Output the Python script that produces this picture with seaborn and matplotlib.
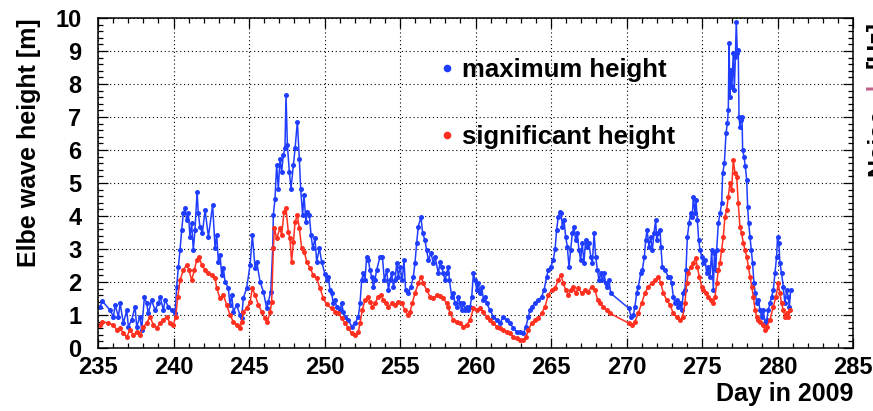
import matplotlib
matplotlib.use("Agg")
import matplotlib.pyplot as plt
from matplotlib.lines import Line2D
from matplotlib.ticker import MultipleLocator
import seaborn as sns
import pandas as pd

# Elbe buoy: maximum wave height per record (day of year 2009, metres)
day_max = [
    235.13, 235.29, 235.79, 236.02, 236.13, 236.35, 236.46, 236.68, 236.90, 237.01,
    237.23, 237.45, 237.56, 237.78, 237.89, 238.07, 238.22, 238.33, 238.55, 238.77,
    238.99, 239.11, 239.33, 239.44, 239.66, 239.88, 240.10, 240.21, 240.32, 240.43,
    240.54, 240.65, 240.76, 240.87, 240.98, 241.09, 241.20, 241.31, 241.42, 241.56,
    241.64, 241.75, 241.91, 242.09, 242.31, 242.59, 242.75, 242.86, 242.97, 243.08,
    243.19, 243.30, 243.41, 243.63, 243.74, 243.85, 243.96, 244.18, 244.40, 244.51,
    244.62, 244.84, 245.07, 245.22, 245.40, 245.51, 245.73, 245.95, 246.17, 246.28,
    246.44, 246.57, 246.61, 246.72, 246.83, 246.94, 247.05, 247.16, 247.27, 247.38,
    247.45, 247.54, 247.67, 247.78, 247.94, 248.05, 248.20, 248.33, 248.42, 248.55,
    248.64, 248.77, 248.86, 248.99, 249.11, 249.22, 249.37, 249.48, 249.66, 249.81,
    250.03, 250.14, 250.25, 250.36, 250.47, 250.58, 250.69, 250.80, 251.03, 251.14,
    251.24, 251.36, 251.58, 251.80, 252.02, 252.24, 252.35, 252.46, 252.57, 252.68,
    252.79, 252.90, 253.01, 253.12, 253.24, 253.34, 253.45, 253.68, 253.83, 253.96,
    254.12, 254.23, 254.34, 254.45, 254.56, 254.67, 254.78, 254.89, 255.00, 255.15,
    255.26, 255.37, 255.55, 255.73, 255.88, 255.99, 256.10, 256.21, 256.39, 256.50,
    256.65, 256.76, 256.88, 257.05, 257.21, 257.32, 257.54, 257.65, 257.76, 257.87,
    257.98, 258.09, 258.20, 258.27, 258.42, 258.53, 258.64, 258.75, 258.86, 258.97,
    259.08, 259.19, 259.31, 259.42, 259.53, 259.64, 259.75, 259.86, 259.97, 260.08,
    260.19, 260.30, 260.41, 260.52, 260.63, 260.74, 260.96, 261.18, 261.40, 261.62,
    261.84, 262.06, 262.28, 262.51, 262.73, 262.95, 263.17, 263.34, 263.50, 263.61,
    263.72, 263.94, 264.16, 264.38, 264.54, 264.71, 264.82, 264.98, 265.15, 265.27,
    265.37, 265.48, 265.59, 265.66, 265.75, 265.86, 265.97, 266.08, 266.19, 266.30,
    266.41, 266.52, 266.63, 266.74, 266.85, 266.96, 267.07, 267.18, 267.29, 267.40,
    267.51, 267.63, 267.74, 267.85, 267.96, 268.07, 268.18, 268.29, 268.40, 268.51,
    268.62, 268.73, 268.84, 268.95, 270.16, 270.30, 270.45, 270.56, 270.67, 270.78,
    270.94, 271.05, 271.18, 271.27, 271.36, 271.49, 271.60, 271.71, 271.82, 271.93,
    272.00, 272.11, 272.22, 272.28, 272.37, 272.55, 272.77, 272.88, 272.99, 273.10,
    273.21, 273.32, 273.43, 273.54, 273.65, 273.76, 273.87, 273.94, 274.03, 274.14,
    274.25, 274.36, 274.42, 274.54, 274.60, 274.69, 274.78, 274.87, 274.98, 275.09,
    275.20, 275.31, 275.42, 275.53, 275.64, 275.75, 275.82, 275.91, 275.97, 276.08,
    276.19, 276.30, 276.37, 276.48, 276.59, 276.68, 276.74, 276.79, 276.85, 276.92,
    276.98, 277.07, 277.14, 277.21, 277.27, 277.34, 277.40, 277.45, 277.51, 277.58,
    277.65, 277.69, 277.78, 277.87, 277.96, 278.02, 278.09, 278.18, 278.27, 278.35,
    278.44, 278.53, 278.62, 278.73, 278.84, 278.95, 279.06, 279.17, 279.28, 279.39,
    279.50, 279.61, 279.72, 279.83, 279.94, 280.00, 280.09, 280.16, 280.27, 280.38,
    280.49, 280.60, 280.71, 280.78, 280.87,
]
h_max = [
    1.25, 1.42, 1.15, 0.95, 1.30, 0.95, 1.35, 0.75, 1.15, 0.65,
    0.85, 1.25, 0.65, 0.95, 0.55, 1.55, 1.35, 1.05, 1.45, 1.15,
    1.35, 1.55, 1.15, 1.45, 1.25, 1.15, 1.05, 1.86, 2.46, 2.97,
    3.58, 4.08, 4.23, 3.88, 4.08, 3.37, 3.78, 2.97, 3.58, 4.74,
    4.08, 3.68, 3.48, 4.18, 3.37, 4.33, 3.02, 3.42, 2.61, 2.82,
    2.21, 2.42, 2.01, 1.81, 1.30, 1.61, 1.10, 1.30, 1.00, 0.90,
    1.51, 1.81, 2.52, 3.42, 2.42, 2.61, 2.01, 1.71, 1.20, 1.40,
    1.71, 3.02, 4.03, 4.53, 5.54, 4.83, 5.74, 5.33, 5.85, 6.05,
    7.67, 6.15, 5.33, 4.83, 5.54, 6.05, 6.86, 5.74, 4.83, 4.03,
    4.63, 3.82, 4.13, 4.03, 3.42, 3.02, 3.32, 2.61, 3.02, 2.61,
    2.25, 2.06, 2.16, 1.76, 1.66, 1.35, 1.45, 1.25, 1.15, 1.35,
    1.10, 0.95, 0.85, 0.65, 0.75, 0.95, 1.35, 2.06, 2.26, 2.06,
    2.77, 2.67, 2.36, 2.16, 1.86, 2.06, 2.36, 2.77, 2.77, 2.06,
    2.36, 1.76, 2.06, 2.26, 1.86, 2.06, 2.57, 2.16, 2.46, 2.06,
    2.67, 1.76, 1.66, 1.86, 2.16, 2.57, 3.17, 3.68, 3.98, 3.47,
    3.27, 2.97, 2.67, 2.87, 2.57, 2.77, 2.26, 2.60, 2.46, 2.26,
    2.06, 2.26, 2.46, 2.06, 1.56, 1.66, 1.35, 1.25, 1.56, 1.35,
    1.15, 1.35, 1.15, 1.25, 1.15, 1.25, 1.56, 2.26, 2.06, 1.76,
    1.96, 1.66, 1.86, 1.45, 1.56, 1.35, 1.15, 0.95, 0.85, 0.75,
    0.95, 0.85, 0.75, 0.60, 0.49, 0.49, 0.44, 0.65, 0.95, 1.15,
    1.25, 1.35, 1.45, 1.56, 1.76, 2.16, 2.36, 2.46, 2.67, 3.00,
    3.58, 3.98, 4.13, 4.08, 3.68, 3.88, 3.37, 3.07, 2.46, 2.97,
    3.47, 3.68, 3.27, 3.47, 2.97, 2.67, 3.17, 2.57, 3.27, 3.07,
    3.17, 2.77, 2.57, 3.47, 2.77, 2.36, 2.06, 2.26, 2.06, 2.26,
    1.96, 1.86, 2.06, 1.66, 1.20, 0.95, 1.00, 1.25, 1.66, 1.86,
    2.26, 2.36, 2.77, 3.27, 3.58, 3.07, 3.37, 2.97, 3.47, 3.88,
    3.27, 3.47, 3.58, 3.07, 2.46, 2.36, 2.16, 2.16, 1.96, 1.56,
    1.35, 1.45, 1.25, 1.35, 1.15, 1.66, 1.76, 2.36, 3.37, 3.78,
    4.08, 3.98, 4.59, 4.08, 4.48, 3.88, 3.27, 2.97, 2.77, 2.57,
    2.67, 2.26, 2.46, 2.16, 2.97, 1.76, 2.87, 2.36, 2.97, 3.78,
    4.08, 4.38, 5.29, 5.60, 6.51, 6.81, 7.21, 9.23, 7.62, 8.43,
    7.92, 8.93, 7.82, 8.83, 9.89, 8.93, 9.03, 7.01, 6.71, 6.91,
    7.01, 6.00, 5.80, 5.50, 5.09, 4.28, 3.78, 3.37, 2.97, 2.57,
    1.96, 1.66, 1.35, 1.45, 1.15, 0.95, 1.15, 0.75, 0.85, 1.15,
    1.35, 1.56, 1.76, 2.26, 2.77, 3.37, 3.17, 2.57, 2.26, 1.86,
    1.35, 1.76, 1.56, 1.25, 1.76,
]

# Significant wave height per record
day_sig = [
    235.13, 235.29, 235.68, 236.02, 236.24, 236.46, 236.68, 236.90, 237.12, 237.34,
    237.56, 237.78, 238.00, 238.22, 238.44, 238.66, 238.88, 239.11, 239.33, 239.55,
    239.77, 239.99, 240.14, 240.28, 240.43, 240.65, 240.87, 241.02, 241.20, 241.38,
    241.53, 241.69, 241.86, 242.09, 242.31, 242.53, 242.75, 242.86, 243.08, 243.30,
    243.52, 243.74, 243.96, 244.18, 244.40, 244.51, 244.62, 244.84, 245.07, 245.22,
    245.40, 245.62, 245.84, 246.06, 246.22, 246.40, 246.50, 246.61, 246.68, 246.83,
    247.05, 247.16, 247.32, 247.45, 247.60, 247.71, 247.82, 247.94, 248.05, 248.20,
    248.33, 248.49, 248.66, 248.82, 249.04, 249.26, 249.48, 249.70, 249.92, 250.14,
    250.47, 250.69, 250.92, 251.14, 251.36, 251.58, 251.80, 252.02, 252.24, 252.35,
    252.50, 252.68, 252.86, 253.01, 253.17, 253.34, 253.56, 253.74, 253.89, 254.05,
    254.23, 254.45, 254.67, 254.89, 255.11, 255.33, 255.50, 255.66, 255.81, 255.99,
    256.21, 256.39, 256.54, 256.76, 256.98, 257.21, 257.43, 257.65, 257.87, 258.09,
    258.20, 258.31, 258.53, 258.75, 258.97, 259.19, 259.42, 259.64, 259.86, 260.08,
    260.30, 260.52, 260.74, 260.96, 261.18, 261.40, 261.62, 261.84, 262.06, 262.28,
    262.51, 262.73, 262.95, 263.17, 263.34, 263.50, 263.72, 263.94, 264.16, 264.38,
    264.60, 264.82, 265.04, 265.27, 265.48, 265.66, 265.81, 265.97, 266.15, 266.32,
    266.48, 266.63, 266.81, 267.03, 267.25, 267.47, 267.69, 267.91, 268.09, 268.24,
    268.46, 268.68, 268.90, 270.16, 270.34, 270.56, 270.78, 271.00, 271.22, 271.44,
    271.66, 271.89, 272.11, 272.28, 272.44, 272.66, 272.88, 273.10, 273.32, 273.54,
    273.72, 273.87, 273.98, 274.09, 274.25, 274.42, 274.58, 274.69, 274.82, 274.98,
    275.09, 275.27, 275.42, 275.58, 275.75, 275.86, 275.97, 276.08, 276.19, 276.30,
    276.41, 276.52, 276.63, 276.74, 276.85, 276.96, 277.07, 277.19, 277.30, 277.40,
    277.51, 277.63, 277.74, 277.85, 277.96, 278.07, 278.18, 278.29, 278.40, 278.51,
    278.62, 278.73, 278.84, 279.06, 279.17, 279.28, 279.50, 279.72, 279.90, 280.05,
    280.16, 280.27, 280.38, 280.49, 280.60, 280.71, 280.83,
]
h_sig = [
    0.70, 0.80, 0.75, 0.70, 0.55, 0.60, 0.44, 0.34, 0.55, 0.39,
    0.49, 0.39, 0.65, 0.75, 0.95, 0.70, 0.60, 0.75, 0.85, 0.95,
    0.75, 0.70, 0.95, 1.55, 2.06, 2.36, 2.52, 2.36, 2.06, 2.36,
    2.67, 2.77, 2.52, 2.36, 2.26, 2.21, 2.11, 1.81, 1.51, 1.61,
    1.30, 1.00, 0.80, 0.70, 0.60, 0.80, 1.10, 1.20, 1.40, 1.81,
    1.61, 1.30, 1.10, 0.90, 0.80, 1.10, 1.40, 3.02, 3.63, 3.32,
    3.63, 3.42, 4.13, 4.23, 3.52, 3.32, 2.61, 3.22, 3.82, 4.03,
    3.63, 3.02, 2.92, 2.61, 2.42, 2.21, 2.11, 1.81, 1.51, 1.32,
    1.20, 1.10, 1.05, 0.90, 0.75, 0.60, 0.44, 0.39, 0.49, 0.75,
    1.15, 1.45, 1.56, 1.40, 1.25, 1.35, 1.56, 1.61, 1.45, 1.35,
    1.25, 1.35, 1.30, 1.40, 1.35, 1.15, 1.00, 1.10, 1.35, 1.66,
    1.96, 2.16, 1.96, 1.76, 1.56, 1.50, 1.61, 1.58, 1.50, 1.35,
    1.25, 1.05, 0.85, 0.80, 0.75, 0.65, 0.70, 0.85, 1.20, 1.15,
    1.20, 1.10, 0.95, 0.85, 0.75, 0.65, 0.60, 0.54, 0.49, 0.44,
    0.34, 0.29, 0.24, 0.24, 0.34, 0.54, 0.75, 0.85, 0.90, 1.05,
    1.25, 1.61, 1.76, 1.82, 2.06, 2.21, 1.96, 1.76, 1.61, 1.76,
    1.86, 1.66, 1.81, 1.66, 1.76, 1.71, 1.86, 1.76, 1.45, 1.35,
    1.25, 1.15, 1.05, 0.75, 0.70, 0.80, 1.05, 1.35, 1.66, 1.86,
    1.96, 2.06, 2.16, 1.96, 1.66, 1.45, 1.30, 1.05, 0.95, 0.85,
    0.95, 1.35, 1.96, 2.26, 2.46, 2.57, 2.72, 2.46, 2.16, 1.86,
    1.76, 1.66, 1.56, 1.45, 1.35, 1.56, 1.96, 2.36, 2.57, 2.97,
    3.37, 3.98, 4.18, 4.59, 4.99, 4.79, 5.70, 5.29, 5.19, 4.38,
    3.68, 3.47, 3.17, 2.97, 2.77, 2.46, 2.16, 1.86, 1.56, 1.15,
    0.95, 0.85, 0.80, 0.70, 0.54, 0.64, 0.85, 1.25, 1.56, 1.96,
    1.66, 1.35, 1.15, 0.95, 1.05, 0.95, 1.15,
]

series_labels = ["maximum height", "significant height"]
series_colors = ["#1f3dff", "#ff3020"]

x_ticks = [235, 240, 245, 250, 255, 260, 265, 270, 275, 280, 285]
y_ticks = list(range(0, 11))

records = pd.concat([
    pd.DataFrame({"day": day_max, "height": h_max, "kind": series_labels[0]}),
    pd.DataFrame({"day": day_sig, "height": h_sig, "kind": series_labels[1]}),
], ignore_index=True)

sns.set_theme(style="ticks")
plt.rcParams["font.family"] = ["Liberation Sans", "DejaVu Sans"]
plt.rcParams["font.weight"] = "bold"
for key in ("text.color", "axes.labelcolor", "xtick.color", "ytick.color",
            "axes.edgecolor"):
    plt.rcParams[key] = "black"

fig = plt.figure(figsize=(8.73, 4.11), dpi=100)
ax = fig.add_axes([0.1123, 0.1533, 0.8648, 0.8029])

sns.lineplot(
    data=records, x="day", y="height", hue="kind",
    hue_order=series_labels, palette=series_colors,
    estimator=None, sort=False, legend=False,
    marker="o", markersize=3.6, markeredgewidth=0,
    linewidth=1.1, ax=ax,
)

ax.set_xlim(x_ticks[0], x_ticks[-1])
ax.set_ylim(y_ticks[0], y_ticks[-1])
ax.set_xticks(x_ticks)
ax.set_yticks(y_ticks)
ax.xaxis.set_minor_locator(MultipleLocator(1))
ax.yaxis.set_minor_locator(MultipleLocator(0.2))

ax.grid(True, which="major", color="black", linestyle=(0, (1, 2.5)), linewidth=0.8)
ax.tick_params(which="both", direction="in", top=True, right=True, color="black")
ax.tick_params(which="major", length=7, width=0.9)
ax.tick_params(which="minor", length=3.8, width=0.9)
ax.tick_params(axis="x", which="major", labelsize=17, pad=6, labelcolor="black")
ax.tick_params(axis="y", which="major", labelsize=17, pad=12, labelcolor="black")
for lab in ax.get_xticklabels() + ax.get_yticklabels():
    lab.set_fontweight("bold")
for sp in ax.spines.values():
    sp.set_color("black")
    sp.set_linewidth(1.1)

ax.set_xlabel("Day in 2009", fontsize=18, fontweight="bold", loc="right",
              labelpad=2, color="black")
ax.set_ylabel("Elbe wave height [m]", fontsize=18, fontweight="bold", loc="top",
              labelpad=10, color="black")

handles = [Line2D([], [], color=c, marker="o", linestyle="none", markersize=5.5,
                  markeredgewidth=0) for c in series_colors]
leg = ax.legend(handles, series_labels, loc="upper left", bbox_to_anchor=(0.421, 0.948),
                frameon=False, handlelength=0.6, handletextpad=0.3,
                labelspacing=1.65, prop={"weight": "bold", "size": 18.5})
for t in leg.get_texts():
    t.set_color("black")

# neighbouring panel's axis title, cut by the figure edge
fig.text(866 / 873, (411 - 176) / 411, "Noise", rotation=90, fontsize=18,
         fontweight="bold", ha="left", va="bottom", color="black")
fig.text(866 / 873, (411 - 68) / 411, "[Hz]", rotation=90, fontsize=18,
         fontweight="bold", ha="left", va="bottom", color="black")
fig.text(864 / 873, (411 - 90) / 411, "'", rotation=90, fontsize=18,
         fontweight="bold", color="#c0608a", ha="left", va="bottom")

fig.savefig("out.png", dpi=100)
